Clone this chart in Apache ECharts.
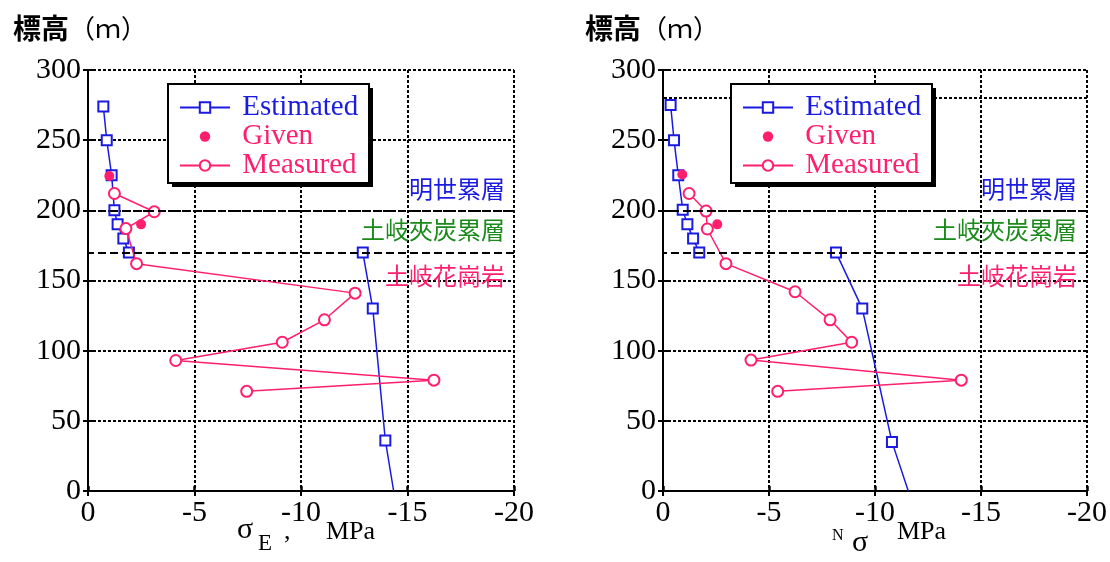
<!DOCTYPE html>
<html><head><meta charset="utf-8">
<script src="https://cdn.jsdelivr.net/npm/echarts@6/dist/echarts.min.js"></script>
<style>html,body{margin:0;padding:0;background:#fff}#c{width:1110px;height:562px}</style>
</head><body><div id="c"></div>
<script>
// ---- data (x = stress MPa, y = elevation m) ----
const legendNames = ['Estimated', 'Given', 'Measured'];
const layerNames = ['明世累層', '土岐夾炭累層', '土岐花崗岩'];
const layerBoundaries = [200, 170];
const rightExtraGridLine = [280];

// left chart: σE
const estE_upper = [[-0.72,274],[-0.88,250],[-1.11,225],[-1.24,200],[-1.39,190],[-1.66,180],[-1.92,170]];
const estE_lower = [[-12.9,170],[-13.37,130],[-13.96,36],[-14.35,0]];
const givenE = [[-1.0,224.5],[-2.49,190]];
const measE = [[-1.24,212],[-3.11,199],[-1.78,187],[-2.28,162],[-12.54,141],[-11.1,122],[-9.12,106],[-4.12,93],[-16.24,79],[-7.45,71]];

// right chart: Nσ
const estN_upper = [[-0.36,275],[-0.52,250],[-0.72,225],[-0.93,200.5],[-1.15,190],[-1.42,180],[-1.71,170]];
const estN_lower = [[-8.16,170],[-9.4,130],[-10.8,35],[-11.57,0]];
const givenN = [[-0.91,225.5],[-2.56,190]];
const measN = [[-1.23,212],[-2.03,199.5],[-2.09,186.7],[-2.97,162],[-6.23,142],[-7.88,122],[-8.9,106],[-4.15,93.3],[-14.07,79],[-5.41,71]];

// ---- styling ----
const BLUE = '#1a1ae0', PINK = '#ff1f6e', GREEN = '#1a8a1a';
const SERIF = 'Liberation Serif';
const CJK = 'Noto Sans CJK JP';

const chart = echarts.init(document.getElementById('c'), null, {renderer: 'canvas'});

function edgeNoSymbol(arr) {
  return arr.map((p, i) => i === arr.length - 1 && p[1] === 0 ? {value: p, symbol: 'none'} : p);
}

function xAxisCfg(gi) {
  return {
    type: 'value', gridIndex: gi, min: -20, max: 0, interval: 5, inverse: true,
    axisLine: {show: true, onZero: false, lineStyle: {color: '#000', width: 2}},
    axisTick: {show: true, inside: true, length: 5, lineStyle: {color: '#000', width: 2.5}},
    axisLabel: {color: '#000', fontFamily: SERIF, fontSize: 30, lineHeight: 30, margin: 7, showMinLabel: true, showMaxLabel: true},
    splitLine: {show: true, lineStyle: {color: '#000', width: 2, type: [3, 2]}}
  };
}
function xTopCfg(gi) {
  return {
    type: 'value', gridIndex: gi, position: 'top', min: -20, max: 0, interval: 5, inverse: true,
    axisLine: {show: false}, axisLabel: {show: false}, splitLine: {show: false},
    axisTick: {show: true, inside: true, length: 5, lineStyle: {color: '#000', width: 2}}
  };
}
function yAxisCfg(gi, colors) {
  return {
    type: 'value', gridIndex: gi, min: 0, max: 300, interval: 50,
    axisLine: {show: true, onZero: false, lineStyle: {color: '#000', width: 2}},
    axisTick: {show: true, inside: true, length: 5, lineStyle: {color: '#000', width: 2}},
    axisLabel: {color: '#000', fontFamily: SERIF, fontSize: 30, margin: 7, showMinLabel: true, showMaxLabel: true},
    splitLine: {show: true, lineStyle: {color: colors, width: 2, type: [3, 2]}}
  };
}
function yRightCfg(gi) {
  return {
    type: 'value', gridIndex: gi, position: 'right', min: 0, max: 300, interval: 50,
    axisLine: {show: false}, axisLabel: {show: false}, splitLine: {show: false},
    axisTick: {show: true, inside: true, length: 5, lineStyle: {color: '#000', width: 2}}
  };
}

function seriesFor(gi, estU, estL, giv, meas, extra) {
  const base = {type: 'line', xAxisIndex: gi, yAxisIndex: gi, silent: true, animation: false};
  const estStyle = {
    ...base, name: 'Estimated', symbol: 'emptyRect', symbolSize: 10,
    lineStyle: {color: BLUE, width: 1.5}, itemStyle: {color: BLUE, borderColor: BLUE, borderWidth: 1.5}, z: 2
  };
  return [
    {...estStyle, data: estU},
    {...estStyle, data: edgeNoSymbol(estL),
      markLine: {silent: true, symbol: 'none', label: {show: false}, animation: false,
        lineStyle: {color: '#000', width: 2, type: [8, 4], opacity: 1},
        emphasis: {disabled: true},
        data: layerBoundaries.map(v => ({yAxis: v}))}},
    {...base, name: 'Measured', symbol: 'emptyCircle', symbolSize: 11, data: meas,
      lineStyle: {color: PINK, width: 1.5}, itemStyle: {color: PINK, borderColor: PINK, borderWidth: 1.5}, z: 3,
      markLine: extra ? {silent: true, symbol: 'none', label: {show: false}, animation: false,
        lineStyle: {color: '#000', width: 2, type: [3, 2], opacity: 1},
        emphasis: {disabled: true},
        data: extra.map(v => ({yAxis: v}))} : undefined},
    {...base, name: 'Given', symbol: 'circle', symbolSize: 10, data: giv,
      lineStyle: {color: PINK, width: 1.5, opacity: 0}, itemStyle: {color: PINK}, z: 3.5}
  ];
}

function legendCfg(left) {
  return {
    left: left, top: 93, orient: 'vertical', itemWidth: 50, itemHeight: 13, itemGap: 0,
    padding: 0, z: 7, selectedMode: false,
    formatter: n => ' ' + n,
    textStyle: {fontFamily: SERIF, fontSize: 29, lineHeight: 28},
    data: legendNames.map(n => ({name: n, textStyle: {color: n === 'Estimated' ? BLUE : PINK}}))
  };
}

const layerColors = [BLUE, GREEN, PINK];
const layerY = [189, 230, 276];
const graphics = [];
// legend boxes with hard shadow
[168, 731].forEach(bx => {
  graphics.push({type: 'rect', z: 5, silent: true, shape: {x: bx + 4, y: 88, width: 201, height: 99},
    style: {fill: '#000'}});
  graphics.push({type: 'rect', z: 6, silent: true, shape: {x: bx, y: 84, width: 201, height: 99},
    style: {fill: '#fff', stroke: '#000', lineWidth: 2}});
});
[[13, 28], [585, 28]].forEach(([x, y]) => {
  graphics.push({type: 'text', x: x, y: y, silent: true, style: {
    text: '{a|標高}{b|（ｍ）}', verticalAlign: 'middle', align: 'left',
    rich: {a: {fontFamily: CJK, fontSize: 28, fontWeight: 'bold', fill: '#000'},
           b: {fontFamily: CJK, fontSize: 26, fill: '#000'}}
  }});
});
[505, 1077].forEach(xr => {
  layerNames.forEach((t, i) => {
    graphics.push({type: 'text', x: xr, y: layerY[i], silent: true, z: 10, style: {
      text: t, align: 'right', verticalAlign: 'middle', fontFamily: CJK, fontSize: 24, fill: layerColors[i]
    }});
  });
});
// x-axis names
function addText(x, y, text, size) {
  graphics.push({type: 'text', x: x, y: y, silent: true, style: {
    text: text, align: 'left', verticalAlign: 'bottom', fontFamily: SERIF, fontSize: size, fill: '#000'}});
}
addText(237, 545, 'σ', 30);
addText(258, 555, 'E', 23);
addText(284, 545, ',', 26);
addText(326, 545, 'MPa', 26);
addText(832, 544, 'N', 16);
addText(852, 558, 'σ', 30);
addText(897, 545, 'MPa', 26);

const allColors = ['#000', '#000', '#000', '#000', '#000', '#000', '#000'];
const rightColors = ['#000', '#000', '#000', '#000', '#000', 'rgba(0,0,0,0)', '#000'];

chart.setOption({
  animation: false,
  backgroundColor: '#fff',
  textStyle: {fontFamily: SERIF},
  grid: [
    {left: 88, right: 596, top: 70, bottom: 71, containLabel: false},
    {left: 663, right: 23, top: 70, bottom: 71, containLabel: false}
  ],
  xAxis: [xAxisCfg(0), xAxisCfg(1), xTopCfg(0), xTopCfg(1)],
  yAxis: [yAxisCfg(0, allColors), yAxisCfg(1, rightColors), yRightCfg(0), yRightCfg(1)],
  legend: [legendCfg(179), legendCfg(742)],
  series: [
    ...seriesFor(0, estE_upper, estE_lower, givenE, measE, null),
    ...seriesFor(1, estN_upper, estN_lower, givenN, measN, rightExtraGridLine)
  ],
  graphic: graphics
});
</script>
</body></html>
